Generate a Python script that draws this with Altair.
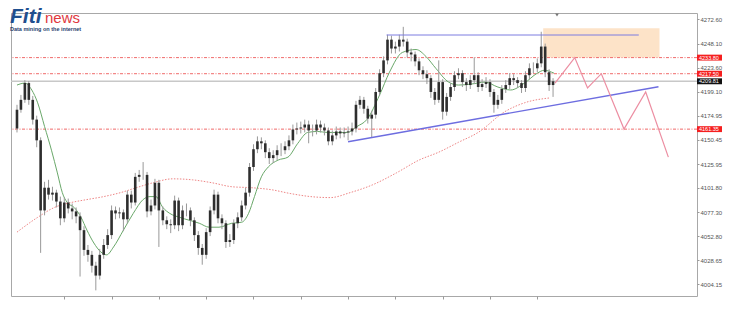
import altair as alt
import pandas as pd

# ---------------- data ----------------
closes = [4181, 4191, 4208, 4191, 4171, 4150, 4079, 4102, 4095, 4097,
          4088, 4071, 4087, 4081, 4078, 4073, 4059, 4039, 4034, 4023,
          4013, 4034, 4044, 4054, 4079, 4076, 4077, 4070, 4095, 4087,
          4113, 4115, 4115, 4078, 4084, 4107, 4079, 4069, 4065, 4064,
          4089, 4064, 4079, 4079, 4069, 4054, 4041, 4034, 4057, 4079,
          4095, 4071, 4066, 4047, 4049, 4066, 4072, 4084, 4097, 4123,
          4141, 4149, 4147, 4138, 4132, 4135, 4140, 4140, 4144, 4150,
          4161, 4162, 4163, 4166, 4160, 4160, 4166, 4163, 4160, 4149,
          4155, 4159, 4157, 4158, 4159, 4162, 4186, 4191, 4182, 4172,
          4176, 4199, 4218, 4231, 4252, 4243, 4245, 4252, 4250, 4239,
          4237, 4230, 4221, 4217, 4213, 4199, 4191, 4209, 4179, 4194,
          4204, 4216, 4218, 4209, 4206, 4211, 4216, 4204, 4207, 4209,
          4199, 4186, 4191, 4202, 4206, 4213, 4211, 4208, 4203, 4216,
          4223, 4223, 4228, 4245, 4219, 4206, 4209.81]
highs = [4186, 4196, 4211, 4210, 4195, 4175, 4153, 4108, 4110, 4103,
         4100, 4093, 4092, 4091, 4086, 4082, 4077, 4063, 4044, 4038,
         4027, 4040, 4050, 4060, 4084, 4083, 4082, 4080, 4099, 4099,
         4117, 4120, 4128, 4118, 4090, 4111, 4110, 4083, 4073, 4070,
         4094, 4092, 4084, 4086, 4082, 4072, 4058, 4045, 4061, 4083,
         4100, 4098, 4075, 4069, 4055, 4070, 4077, 4089, 4102, 4127,
         4146, 4154, 4153, 4150, 4142, 4140, 4145, 4147, 4149, 4155,
         4166, 4168, 4169, 4171, 4170, 4166, 4171, 4170, 4167, 4163,
         4160, 4164, 4163, 4163, 4164, 4168, 4190, 4195, 4194, 4185,
         4180, 4203, 4222, 4235, 4257, 4256, 4250, 4257, 4265, 4253,
         4243, 4240, 4233, 4225, 4221, 4216, 4203, 4231, 4212, 4198,
         4208, 4220, 4223, 4221, 4213, 4216, 4234, 4219, 4212, 4214,
         4212, 4202, 4196, 4206, 4211, 4218, 4217, 4214, 4211, 4220,
         4228, 4229, 4233, 4260, 4248, 4222, 4213]
lows = [4158, 4178, 4188, 4186, 4166, 4143, 4036, 4074, 4090, 4089,
        4082, 4064, 4067, 4076, 4070, 4066, 4012, 4033, 4027, 4016,
        3998, 4009, 4030, 4040, 4050, 4070, 4071, 4058, 4066, 4081,
        4084, 4108, 4110, 4072, 4074, 4080, 4042, 4064, 4060, 4056,
        4060, 4058, 4060, 4073, 4063, 4048, 4034, 4024, 4030, 4053,
        4075, 4066, 4060, 4041, 4042, 4045, 4061, 4068, 4080, 4093,
        4119, 4137, 4141, 4132, 4126, 4127, 4130, 4134, 4136, 4140,
        4146, 4156, 4157, 4158, 4147, 4154, 4156, 4158, 4155, 4145,
        4145, 4151, 4152, 4153, 4150, 4155, 4158, 4182, 4177, 4167,
        4153, 4172, 4195, 4214, 4227, 4238, 4238, 4240, 4245, 4234,
        4230, 4225, 4216, 4212, 4207, 4193, 4186, 4188, 4171, 4175,
        4190, 4200, 4212, 4204, 4200, 4202, 4207, 4199, 4200, 4203,
        4194, 4178, 4182, 4187, 4198, 4202, 4206, 4203, 4198, 4199,
        4212, 4218, 4219, 4224, 4214, 4200, 4194]
first_open = 4162

fast_ma_bar = [0, 2, 3.75, 5.25, 7, 8.75, 10.25, 11.5, 12.75, 14.5, 16.25, 17.75,
               19.5, 21.25, 22.75, 24.5, 27, 29.5, 32, 33.75, 35.25, 37, 38.75,
               41.25, 43.75, 46.25, 48.75, 51.25, 54.5, 57, 58.75, 60.25, 62,
               63.75, 66.25, 68.75, 71.25, 73.75, 76.25, 78.75, 81.25, 83.75,
               86.25, 88.75, 92, 94.5, 97.75, 101.25, 103.75, 106.25, 109.5,
               112, 115.25, 118.75, 122, 125.25, 128.75, 132, 133.75, 136.25]
fast_ma_val = [4206, 4208, 4201, 4188, 4164, 4140, 4117, 4097, 4087, 4082, 4072, 4059,
               4046, 4037, 4034, 4042, 4059, 4076, 4090, 4093, 4093, 4082, 4076,
               4072, 4069, 4066, 4062, 4062, 4066, 4067, 4076, 4093, 4113,
               4123, 4130, 4133, 4147, 4158, 4159, 4158, 4158, 4158,
               4164, 4171, 4196, 4219, 4239, 4242, 4235, 4223, 4209,
               4206, 4207, 4209, 4204, 4201, 4208, 4218, 4221, 4218]

slow_ma_bar = [0, 5.25, 9.5, 13.75, 17.75, 22, 26.25, 30.25, 34.5, 39.5, 44.5,
               49.5, 54.5, 59.5, 64.5, 69.5, 74.5, 79.5, 84.5, 90.25, 96.25,
               102, 107, 112, 117, 123.75, 128.75, 135.25]
slow_ma_val = [4057, 4072, 4082, 4087, 4090, 4093, 4097, 4102, 4107, 4111, 4110,
               4107, 4103, 4102, 4100, 4096, 4093, 4092, 4097, 4105, 4117,
               4130, 4138, 4148, 4158, 4179, 4188, 4193]

path_bar = [136.5, 141.5, 144.75, 148.25, 154, 159.5, 165.25]
path_val = [4208, 4233.8, 4203, 4217.5, 4161.4, 4199, 4133]

trend_bar = [84, 162.75]
trend_val = [4148.6, 4204.3]

top_line_bar = [93.75, 157.75]
top_line_val = 4256.7

zone_bar = [133.5, 163]
zone_val = [4234, 4263.5]

levels = [4233.80, 4217.50, 4161.35]
current_price = 4209.81
axis_ticks = [4272.60, 4248.10, 4223.60, 4199.10, 4174.95, 4150.45,
              4125.95, 4101.80, 4077.30, 4052.80, 4028.65, 4004.15]
bar_ticks = [12, 24, 36, 48, 60, 72, 84, 96, 108, 120, 132]
marker_bar = 137

# ---------------- tables ----------------
opens = [first_open] + closes[:-1]
candles = pd.DataFrame({"i": list(range(len(closes))), "o": opens, "c": closes,
                        "h": highs, "l": lows})
fast_df = pd.DataFrame({"i": fast_ma_bar, "v": fast_ma_val})
slow_df = pd.DataFrame({"i": slow_ma_bar, "v": slow_ma_val})
path_df = pd.DataFrame({"i": path_bar, "v": path_val})
trend_df = pd.DataFrame({"i": trend_bar, "v": trend_val})
top_df = pd.DataFrame({"i1": [top_line_bar[0]], "i2": [top_line_bar[1]], "v": [top_line_val]})
zone_df = pd.DataFrame({"i1": [zone_bar[0]], "i2": [zone_bar[1]],
                        "v1": [zone_val[0]], "v2": [zone_val[1]]})
levels_df = pd.DataFrame({"v": levels})
current_df = pd.DataFrame({"v": [current_price]})
boxes_df = pd.DataFrame({"v": levels + [current_price],
                         "kind": ["lvl", "lvl", "lvl", "cur"]})
marker_df = pd.DataFrame({"i": [marker_bar]})

xs = alt.Scale(domain=[-0.25, 171.25], nice=False, zero=False)
ys = alt.Scale(domain=[3992.3, 4279.0], nice=False, zero=False)
FONT = "Liberation Sans"

XAX = alt.Axis(values=bar_ticks, labels=False, domain=False, grid=False,
               ticks=True, tickSize=3, tickColor="#9a9a9a", title=None,
               orient="bottom")
YAX = alt.Axis(values=axis_ticks, format=".2f", orient="right",
               domain=False, grid=False, tickSize=2, tickColor="#999999",
               labelFont=FONT, labelFontSize=6, labelColor="#555555",
               labelPadding=1, labelOverlap=False, labelFlush=False, title=None)


def X(f):
    return alt.X(f, type="quantitative", scale=xs, axis=XAX)


def Y(f):
    return alt.Y(f, type="quantitative", scale=ys, axis=YAX)


zone = alt.Chart(zone_df).mark_rect(color="#fde3c8").encode(
    x=X("i1"), x2="i2", y=Y("v1"), y2="v2")

level_lines = alt.Chart(levels_df).mark_rule(
    color="#f06a6a", strokeWidth=1, strokeDash=[3, 1.5, 1, 1.5]).encode(y=Y("v"))

current_line = alt.Chart(current_df).mark_rule(
    color="#c8c8c8", strokeWidth=1.5).encode(y=Y("v"))

slow_ma = alt.Chart(slow_df).mark_line(
    color="#ee8585", strokeWidth=1, strokeDash=[1.5, 1.5], interpolate="monotone"
).encode(x=X("i"), y=Y("v"))

fast_ma = alt.Chart(fast_df).mark_line(
    color="#6aa86a", strokeWidth=1, interpolate="monotone"
).encode(x=X("i"), y=Y("v"))

wicks = alt.Chart(candles).mark_rule(color="#999999", strokeWidth=1).encode(
    x=X("i"), y=Y("l"), y2="h")

bodies = alt.Chart(candles).mark_bar(size=2.6, color="#2e2e2e").encode(
    x=X("i"), y=Y("o"), y2="c")

top_line = alt.Chart(top_df).mark_rule(color="#7d7de0", strokeWidth=1).encode(
    x=X("i1"), x2="i2", y=Y("v"))

trend = alt.Chart(trend_df).mark_line(color="#6d6de0", strokeWidth=1.4).encode(
    x=X("i"), y=Y("v"))

path = alt.Chart(path_df).mark_line(color="#ec8ea2", strokeWidth=1.2).encode(
    x=X("i"), y=Y("v"))

box_rects = alt.Chart(boxes_df).transform_calculate(
    lo="datum.v - 3", hi="datum.v + 3"
).mark_rect().encode(
    x=alt.value(686), x2=alt.value(711),
    y=Y("lo"), y2="hi",
    color=alt.Color("kind:N", scale=alt.Scale(domain=["lvl", "cur"],
                                              range=["#f51f1f", "#111111"]),
                    legend=None))

box_text = alt.Chart(boxes_df).mark_text(
    align="left", baseline="middle", font=FONT, fontSize=5.5, color="white"
).encode(x=alt.value(688), y=Y("v"), text=alt.Text("v:Q", format=".2f"))

marker = alt.Chart(marker_df).mark_point(
    shape="triangle-down", size=14, filled=True, color="#777777", opacity=1
).encode(x=X("i"), y=alt.value(2))

logo_a = alt.Chart(pd.DataFrame({"t": ["Fiti"]})).mark_text(
    align="left", baseline="alphabetic", font=FONT, fontSize=21,
    fontWeight="bold", fontStyle="italic", color="#1f4f8f"
).encode(x=alt.value(-1), y=alt.value(10), text="t:N")

logo_b = alt.Chart(pd.DataFrame({"t": ["news"]})).mark_text(
    align="left", baseline="alphabetic", font=FONT, fontSize=15, color="#e0383e"
).encode(x=alt.value(34), y=alt.value(10), text="t:N")

logo_c = alt.Chart(pd.DataFrame({"t": ["Data mining on the internet"]})).mark_text(
    align="left", baseline="alphabetic", font=FONT, fontSize=5.5,
    fontWeight="bold", color="#1f3f6f"
).encode(x=alt.value(-1), y=alt.value(17.5), text="t:N")

chart = alt.layer(
    zone, level_lines, current_line, slow_ma, fast_ma, wicks, bodies,
    top_line, trend, path, box_rects, box_text, marker, logo_a, logo_b, logo_c
).properties(
    width=686, height=283,
    autosize=alt.AutoSizeParams(type="none"),
    padding={"left": 11, "top": 13, "right": 42, "bottom": 16},
    background="white"
).configure_view(stroke="#a8a8a8", strokeWidth=1)

chart.save("out.html", embed_options={"renderer": "svg", "actions": False})
